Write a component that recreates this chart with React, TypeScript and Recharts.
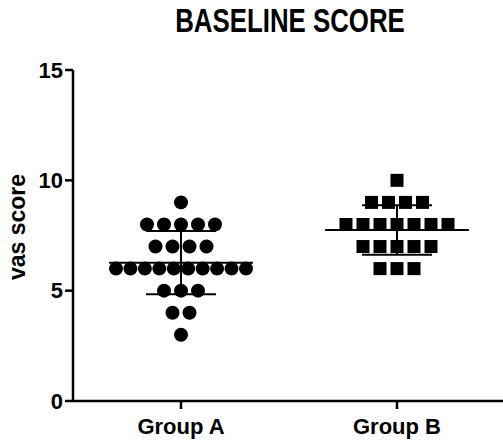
import { ScatterChart, Scatter, XAxis, YAxis, ReferenceLine } from "recharts"

const categories = ["Group A", "Group B"]

const groupAScores = [
  9,
  8, 8, 8, 8, 8,
  7, 7, 7, 7,
  6, 6, 6, 6, 6, 6, 6, 6, 6, 6,
  5, 5, 5,
  4, 4,
  3
]

const groupBScores = [
  10,
  9, 9, 9, 9,
  8, 8, 8, 8, 8, 8, 8,
  7, 7, 7, 7, 7,
  6, 6, 6
]

const yTicks = [0, 5, 10, 15]

const FONT = "'Liberation Sans', Arial, sans-serif"
const PX_PER_UNIT = 216

// spread equal values sideways like a column scatter
function swarm(scores: number[], center: number) {
  const rows: Record<number, number> = {}
  scores.forEach(v => { rows[v] = (rows[v] || 0) + 1 })
  const seen: Record<number, number> = {}
  return scores.map(v => {
    const n = rows[v]
    seen[v] = (seen[v] ?? -1) + 1
    const i = seen[v]
    const step = n > 1 ? Math.min(17, 130 / (n - 1)) : 0
    return { x: center + ((i - (n - 1) / 2) * step) / PX_PER_UNIT, y: v }
  })
}

function stats(scores: number[]) {
  const mean = scores.reduce((s, v) => s + v, 0) / scores.length
  const sd = Math.sqrt(scores.reduce((s, v) => s + (v - mean) ** 2, 0) / (scores.length - 1))
  return { mean, sd }
}

const groups = [groupAScores, groupBScores].map((scores, i) => ({
  center: i + 1,
  points: swarm(scores, i + 1),
  ...stats(scores)
}))

const Dot = (p: any) => <circle cx={p.cx} cy={p.cy} r={7} fill="#000" />
const Square = (p: any) => <rect x={p.cx - 6.5} y={p.cy - 6.5} width={13} height={13} fill="#000" />

function errorLines(g: { center: number; mean: number; sd: number }, key: string) {
  const c = g.center
  const line = { stroke: "#000", strokeWidth: 2, ifOverflow: "visible" as const }
  return [
    <ReferenceLine key={key + "m"} segment={[{ x: c - 0.333, y: g.mean }, { x: c + 0.333, y: g.mean }]} {...line} />,
    <ReferenceLine key={key + "t"} segment={[{ x: c - 0.162, y: g.mean + g.sd }, { x: c + 0.162, y: g.mean + g.sd }]} {...line} />,
    <ReferenceLine key={key + "b"} segment={[{ x: c - 0.162, y: g.mean - g.sd }, { x: c + 0.162, y: g.mean - g.sd }]} {...line} />,
    <ReferenceLine key={key + "v"} segment={[{ x: c, y: g.mean - g.sd }, { x: c, y: g.mean + g.sd }]} {...line} />
  ]
}

export default function App() {
  const tickStyle = { fill: "#000", fontSize: 22, fontWeight: "bold", fontFamily: FONT }

  return (
    <div style={{ position: "absolute", left: 0, top: 0, width: 503, height: 445, overflow: "hidden", background: "#fff" }}>
      <ScatterChart width={506} height={445} margin={{ top: 70, right: 1, bottom: 4, left: 13 }}>
        <XAxis
          type="number"
          dataKey="x"
          domain={[0.5, 2.5]}
          ticks={[1, 2]}
          tickFormatter={(v: number) => categories[Math.round(v) - 1]}
          height={40}
          tickSize={8}
          tickMargin={9}
          tick={tickStyle}
          axisLine={{ stroke: "#000", strokeWidth: 2.5 }}
          tickLine={{ stroke: "#000", strokeWidth: 2.5 }}
          allowDataOverflow
        />
        <YAxis
          type="number"
          dataKey="y"
          domain={[0, 15]}
          ticks={yTicks}
          width={60}
          tickSize={8}
          tickMargin={2}
          tick={tickStyle}
          axisLine={{ stroke: "#000", strokeWidth: 2.5 }}
          tickLine={{ stroke: "#000", strokeWidth: 2.5 }}
        />
        <Scatter data={groups[0].points} shape={Dot} isAnimationActive={false} />
        <Scatter data={groups[1].points} shape={Square} isAnimationActive={false} />
        {errorLines(groups[0], "a")}
        {errorLines(groups[1], "b")}
      </ScatterChart>
      <svg width={503} height={445} style={{ position: "absolute", left: 0, top: 0, pointerEvents: "none" }}>
        <text
          transform="translate(290,32) scale(0.76,1)"
          textAnchor="middle"
          fontSize={34}
          fontWeight="bold"
          fontFamily={FONT}
          fill="#000"
        >
          BASELINE SCORE
        </text>
        <text
          transform="translate(25,227) rotate(-90)"
          textAnchor="middle"
          fontSize={23}
          fontWeight="bold"
          fontFamily={FONT}
          fill="#000"
        >
          vas score
        </text>
      </svg>
    </div>
  )
}
